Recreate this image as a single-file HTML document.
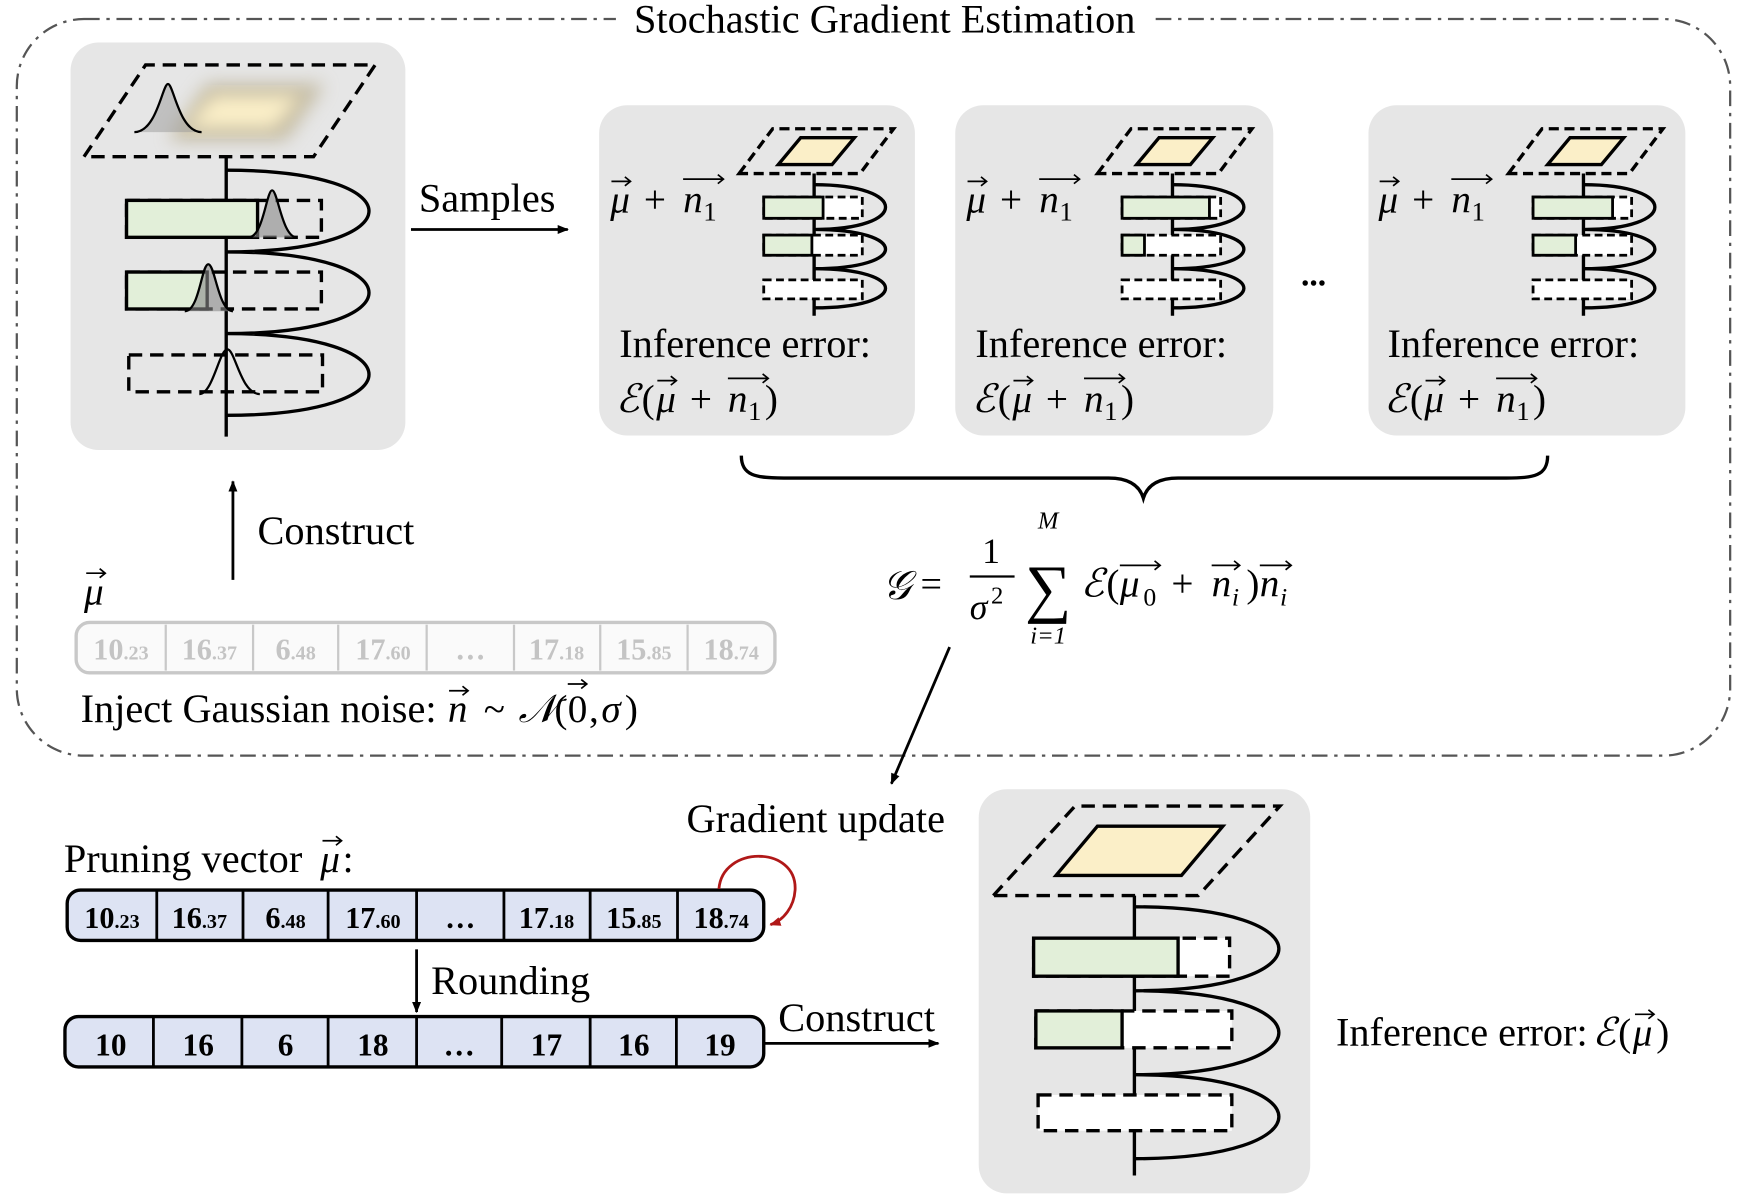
<!DOCTYPE html>
<html><head><meta charset="utf-8"><style>
html,body{margin:0;padding:0;background:#fff}
svg{display:block}
text{font-family:"Liberation Serif","DejaVu Serif",serif}
</style></head><body>
<svg width="1738" height="1199" viewBox="0 0 1552 1071" preserveAspectRatio="none" xmlns="http://www.w3.org/2000/svg">
<defs>
<filter id="bl" x="-30%" y="-30%" width="160%" height="160%"><feGaussianBlur stdDeviation="8"/></filter>
<marker id="ah" markerWidth="10" markerHeight="8" refX="9" refY="4" orient="auto" markerUnits="userSpaceOnUse"><path d="M0,0 L10,4 L0,8 z" fill="#000"/></marker>
<marker id="ahr" markerWidth="10" markerHeight="8" refX="9" refY="4" orient="auto" markerUnits="userSpaceOnUse"><path d="M0,0 L10,4 L0,8 z" fill="#b01818"/></marker>
<g id="mini">
<polygon points="660,155 690,115 798,115 768,155" fill="none" stroke="#000" stroke-width="3" stroke-dasharray="9,5"/>
<polygon points="695,147 715,123 763,123 743,147" fill="#fbefc8" stroke="#000" stroke-width="3"/>
<line x1="727" y1="155" x2="727" y2="282" stroke="#000" stroke-width="3"/>
<path d="M727,165 C812,165 812,205 727,205 C812,205 812,240 727,240 C812,240 812,275 727,275" fill="none" stroke="#000" stroke-width="3"/>
<rect x="682" y="176" width="88" height="19" fill="#fff" stroke="#000" stroke-width="2.5" stroke-dasharray="7,4"/>
<rect x="682" y="210" width="88" height="18" fill="#fff" stroke="#000" stroke-width="2.5" stroke-dasharray="7,4"/>
<rect x="682" y="250" width="88" height="17" fill="#fff" stroke="#000" stroke-width="2.5" stroke-dasharray="7,4"/>
</g>
<g id="lbl">
<text x="545" y="190" font-size="35" font-style="italic">μ</text>
<path d="M546,162 h17 m-5,-4 l5,4 l-5,4" fill="none" stroke="#000" stroke-width="1.5"/>
<text x="575" y="190" font-size="35">+</text>
<text x="610" y="190" font-size="35" font-style="italic">n</text>
<text x="628" y="197" font-size="24">1</text>
<path d="M610,160 h36 m-5,-4 l5,4 l-5,4" fill="none" stroke="#000" stroke-width="1.5"/>
<text x="553" y="319" font-size="36">Inference error:</text>
<text x="550" y="368" font-size="35" font-style="italic">ℰ</text>
<text x="573" y="368" font-size="35">(</text>
<text x="586" y="368" font-size="35" font-style="italic">μ</text>
<path d="M587,340 h17 m-5,-4 l5,4 l-5,4" fill="none" stroke="#000" stroke-width="1.5"/>
<text x="616" y="368" font-size="35">+</text>
<text x="650" y="368" font-size="35" font-style="italic">n</text>
<text x="668" y="375" font-size="24">1</text>
<path d="M650,338 h36 m-5,-4 l5,4 l-5,4" fill="none" stroke="#000" stroke-width="1.5"/>
<text x="683" y="368" font-size="35">)</text>
</g>
</defs>

<rect x="15" y="17" width="1530" height="658" rx="60" fill="none" stroke="#555" stroke-width="2" stroke-dasharray="14,6,3,6"/>
<rect x="550" y="0" width="480" height="36" fill="#fff"/>
<text x="790" y="29" font-size="36" text-anchor="middle">Stochastic Gradient Estimation</text>

<rect x="63" y="38" width="299" height="364" rx="25" fill="#e6e6e6"/>
<polygon points="75,140 130,58 335,58 280,140" fill="none" stroke="#000" stroke-width="3" stroke-dasharray="12,7"/>
<polygon points="150,125 185,75 290,75 255,125" fill="#a89a70" opacity="0.6" filter="url(#bl)"/>
<polygon points="165,115 190,85 270,85 245,115" fill="#fbefc8" filter="url(#bl)"/>
<path d="M120,118 C140,118 145,75 150,75 C155,75 160,118 180,118" fill="#999" fill-opacity="0.5" stroke="#000" stroke-width="2"/>
<line x1="202" y1="140" x2="202" y2="390" stroke="#000" stroke-width="3"/>
<path d="M202,152 C372,152 372,225 202,225 C372,225 372,298 202,298 C372,298 372,371 202,371" fill="none" stroke="#000" stroke-width="3"/>
<rect x="113" y="179" width="174" height="33" fill="none" stroke="#000" stroke-width="3" stroke-dasharray="12,7"/>
<rect x="113" y="179" width="117" height="33" fill="#e2efd9" stroke="#000" stroke-width="3"/>
<rect x="113" y="243" width="174" height="33" fill="none" stroke="#000" stroke-width="3" stroke-dasharray="12,7"/>
<rect x="113" y="243" width="72" height="33" fill="#e2efd9" stroke="#000" stroke-width="3"/>
<rect x="115" y="317" width="173" height="33" fill="none" stroke="#000" stroke-width="3" stroke-dasharray="12,7"/>
<path d="M222,212 C235,212 238,170 243,170 C248,170 252,212 265,212" fill="#888" fill-opacity="0.6" stroke="#000" stroke-width="2"/>
<path d="M165,278 C178,278 180,236 186,236 C192,236 195,278 208,278" fill="#888" fill-opacity="0.6" stroke="#000" stroke-width="2"/>
<path d="M178,352 C190,352 196,312 203,312 C210,312 215,352 232,352" fill="none" stroke="#000" stroke-width="2"/>

<text x="435" y="189" font-size="36" text-anchor="middle">Samples</text>
<line x1="367" y1="205" x2="507" y2="205" stroke="#000" stroke-width="2.5" marker-end="url(#ah)"/>

<rect x="535" y="94" width="282" height="295" rx="25" fill="#e6e6e6"/>
<use href="#mini"/>
<rect x="682" y="176" width="53" height="19" fill="#e2efd9" stroke="#000" stroke-width="2.5"/>
<rect x="682" y="210" width="43" height="18" fill="#e2efd9" stroke="#000" stroke-width="2.5"/>
<use href="#lbl"/>

<rect x="853" y="94" width="284" height="295" rx="25" fill="#e6e6e6"/>
<use href="#mini" x="320"/>
<rect x="1002" y="176" width="78" height="19" fill="#e2efd9" stroke="#000" stroke-width="2.5"/>
<rect x="1002" y="210" width="20" height="18" fill="#e2efd9" stroke="#000" stroke-width="2.5"/>
<use href="#lbl" x="318"/>

<text x="1173" y="255" font-size="30" text-anchor="middle" font-weight="bold">...</text>

<rect x="1222" y="94" width="283" height="295" rx="25" fill="#e6e6e6"/>
<use href="#mini" x="687"/>
<rect x="1369" y="176" width="71" height="19" fill="#e2efd9" stroke="#000" stroke-width="2.5"/>
<rect x="1369" y="210" width="38" height="18" fill="#e2efd9" stroke="#000" stroke-width="2.5"/>
<use href="#lbl" x="686"/>

<path d="M662,407 C662,425 675,427 700,427 L990,427 C1010,427 1018,435 1021,445 C1024,435 1032,427 1052,427 L1345,427 C1370,427 1382,425 1382,407" fill="none" stroke="#000" stroke-width="3"/>

<!-- formula -->
<text x="788" y="535" font-size="36" font-style="italic">𝒢</text>
<text x="822" y="533" font-size="34">=</text>
<text x="885" y="503" font-size="32" text-anchor="middle">1</text>
<line x1="866" y1="515" x2="906" y2="515" stroke="#000" stroke-width="2"/>
<text x="866" y="553" font-size="32" font-style="italic">σ</text>
<text x="885" y="539" font-size="22">2</text>
<text x="936" y="472" font-size="22" font-style="italic" text-anchor="middle">M</text>
<text x="936" y="545" font-size="58" text-anchor="middle">∑</text>
<text x="936" y="575" font-size="22" font-style="italic" text-anchor="middle">i=1</text>
<text x="965" y="533" font-size="35" font-style="italic">ℰ</text>
<text x="988" y="533" font-size="35">(</text>
<text x="1000" y="533" font-size="35" font-style="italic">μ</text>
<text x="1021" y="541" font-size="23">0</text>
<path d="M1000,505 h36 m-5,-4 l5,4 l-5,4" fill="none" stroke="#000" stroke-width="1.5"/>
<text x="1046" y="533" font-size="35">+</text>
<text x="1082" y="533" font-size="35" font-style="italic">n</text>
<text x="1100" y="541" font-size="23" font-style="italic">i</text>
<path d="M1082,505 h25 m-5,-4 l5,4 l-5,4" fill="none" stroke="#000" stroke-width="1.5"/>
<text x="1113" y="533" font-size="35">)</text>
<text x="1125" y="533" font-size="35" font-style="italic">n</text>
<text x="1143" y="541" font-size="23" font-style="italic">i</text>
<path d="M1125,505 h28 m-5,-4 l5,4 l-5,4" fill="none" stroke="#000" stroke-width="1.5"/>

<line x1="208" y1="518" x2="208" y2="430" stroke="#000" stroke-width="2.5" marker-end="url(#ah)"/>
<text x="230" y="486" font-size="36">Construct</text>
<text x="75" y="540" font-size="35" font-style="italic">μ</text>
<path d="M77,512 h17 m-5,-4 l5,4 l-5,4" fill="none" stroke="#000" stroke-width="1.5"/>

<rect x="68" y="556" width="624" height="45" rx="12" fill="#fafafa" stroke="#c8c8c8" stroke-width="3"/>
<g stroke="#c8c8c8" stroke-width="2">
<line x1="148" y1="558" x2="148" y2="599"/><line x1="226" y1="558" x2="226" y2="599"/><line x1="302" y1="558" x2="302" y2="599"/><line x1="381" y1="558" x2="381" y2="599"/><line x1="459" y1="558" x2="459" y2="599"/><line x1="536" y1="558" x2="536" y2="599"/><line x1="614" y1="558" x2="614" y2="599"/>
</g>
<g font-size="27" font-weight="bold" fill="#c4c4c4" text-anchor="middle">
<text x="108" y="589">10<tspan font-size="18">.23</tspan></text>
<text x="187" y="589">16<tspan font-size="18">.37</tspan></text>
<text x="264" y="589">6<tspan font-size="18">.48</tspan></text>
<text x="342" y="589">17<tspan font-size="18">.60</tspan></text>
<text x="420" y="589">…</text>
<text x="497" y="589">17<tspan font-size="18">.18</tspan></text>
<text x="575" y="589">15<tspan font-size="18">.85</tspan></text>
<text x="653" y="589">18<tspan font-size="18">.74</tspan></text>
</g>
<text x="72" y="645" font-size="36">Inject Gaussian noise:</text>
<text x="400" y="645" font-size="35" font-style="italic">n</text>
<path d="M401,617 h17 m-5,-4 l5,4 l-5,4" fill="none" stroke="#000" stroke-width="1.5"/>
<text x="432" y="645" font-size="35">~</text>
<text x="463" y="645" font-size="35" font-style="italic">𝒩</text>
<text x="495" y="645" font-size="35">(</text>
<text x="507" y="645" font-size="35">0</text>
<path d="M507,611 h17 m-5,-4 l5,4 l-5,4" fill="none" stroke="#000" stroke-width="1.5"/>
<text x="526" y="645" font-size="35">,</text>
<text x="537" y="645" font-size="35" font-style="italic">σ</text>
<text x="558" y="645" font-size="35">)</text>

<line x1="848" y1="578" x2="796" y2="700" stroke="#000" stroke-width="2.5" marker-end="url(#ah)"/>
<text x="613" y="743" font-size="36">Gradient update</text>
<text x="57" y="779" font-size="36">Pruning vector</text>
<text x="286" y="779" font-size="35" font-style="italic">μ</text>
<path d="M288,751 h17 m-5,-4 l5,4 l-5,4" fill="none" stroke="#000" stroke-width="1.5"/>
<text x="306" y="779" font-size="35">:</text>

<rect x="60" y="795" width="622" height="45" rx="12" fill="#dde3f3" stroke="#000" stroke-width="3"/>
<g stroke="#000" stroke-width="2.5">
<line x1="140" y1="795" x2="140" y2="840"/><line x1="217" y1="795" x2="217" y2="840"/><line x1="293" y1="795" x2="293" y2="840"/><line x1="372" y1="795" x2="372" y2="840"/><line x1="450" y1="795" x2="450" y2="840"/><line x1="527" y1="795" x2="527" y2="840"/><line x1="605" y1="795" x2="605" y2="840"/>
</g>
<g font-size="27" font-weight="bold" text-anchor="middle">
<text x="100" y="829">10<tspan font-size="18">.23</tspan></text>
<text x="178" y="829">16<tspan font-size="18">.37</tspan></text>
<text x="255" y="829">6<tspan font-size="18">.48</tspan></text>
<text x="333" y="829">17<tspan font-size="18">.60</tspan></text>
<text x="411" y="829">…</text>
<text x="488" y="829">17<tspan font-size="18">.18</tspan></text>
<text x="566" y="829">15<tspan font-size="18">.85</tspan></text>
<text x="644" y="829">18<tspan font-size="18">.74</tspan></text>
</g>
<path d="M642,794 C645,755 712,755 710,795 C709,810 700,822 688,826" fill="none" stroke="#b01818" stroke-width="2.5" marker-end="url(#ahr)"/>

<line x1="372" y1="848" x2="372" y2="904" stroke="#000" stroke-width="2.5" marker-end="url(#ah)"/>
<text x="385" y="888" font-size="36">Rounding</text>

<rect x="58" y="908" width="624" height="45" rx="12" fill="#dde3f3" stroke="#000" stroke-width="3"/>
<g stroke="#000" stroke-width="2.5">
<line x1="137" y1="908" x2="137" y2="953"/><line x1="216" y1="908" x2="216" y2="953"/><line x1="293" y1="908" x2="293" y2="953"/><line x1="372" y1="908" x2="372" y2="953"/><line x1="448" y1="908" x2="448" y2="953"/><line x1="527" y1="908" x2="527" y2="953"/><line x1="604" y1="908" x2="604" y2="953"/>
</g>
<g font-size="28" font-weight="bold" text-anchor="middle">
<text x="99" y="943">10</text><text x="177" y="943">16</text><text x="255" y="943">6</text><text x="333" y="943">18</text><text x="410" y="943">…</text><text x="488" y="943">17</text><text x="566" y="943">16</text><text x="643" y="943">19</text>
</g>
<line x1="683" y1="932" x2="838" y2="932" stroke="#000" stroke-width="2.5" marker-end="url(#ah)"/>
<text x="695" y="921" font-size="36">Construct</text>

<rect x="874" y="705" width="296" height="361" rx="25" fill="#e6e6e6"/>
<polygon points="887,800 960,720 1143,720 1070,800" fill="none" stroke="#000" stroke-width="3" stroke-dasharray="12,7"/>
<polygon points="943,782 980,738 1092,738 1055,782" fill="#fbefc8" stroke="#000" stroke-width="3"/>
<line x1="1013" y1="800" x2="1013" y2="1050" stroke="#000" stroke-width="3"/>
<path d="M1013,810 C1185,810 1185,885 1013,885 C1185,885 1185,960 1013,960 C1185,960 1185,1035 1013,1035" fill="none" stroke="#000" stroke-width="3"/>
<rect x="923" y="838" width="175" height="34" fill="#fff" stroke="#000" stroke-width="3" stroke-dasharray="12,7"/>
<rect x="923" y="838" width="129" height="34" fill="#e2efd9" stroke="#000" stroke-width="3"/>
<rect x="925" y="903" width="175" height="33" fill="#fff" stroke="#000" stroke-width="3" stroke-dasharray="12,7"/>
<rect x="925" y="903" width="77" height="33" fill="#e2efd9" stroke="#000" stroke-width="3"/>
<rect x="927" y="978" width="173" height="32" fill="#fff" stroke="#000" stroke-width="3" stroke-dasharray="12,7"/>
<text x="1193" y="934" font-size="36">Inference error:</text>
<text x="1422" y="934" font-size="35" font-style="italic">ℰ</text>
<text x="1445" y="934" font-size="35">(</text>
<text x="1458" y="934" font-size="35" font-style="italic">μ</text>
<path d="M1460,906 h17 m-5,-4 l5,4 l-5,4" fill="none" stroke="#000" stroke-width="1.5"/>
<text x="1479" y="934" font-size="35">)</text>
</svg>
</body></html>
